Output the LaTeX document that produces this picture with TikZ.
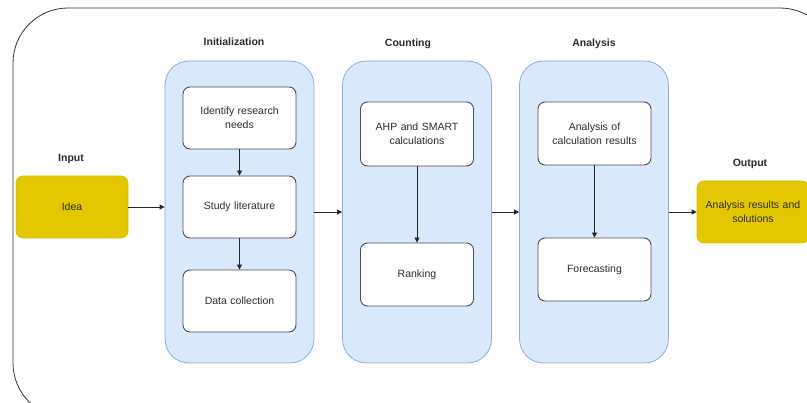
\documentclass[tikz,border=0pt]{standalone}
\usepackage{fontspec}
\setmainfont{Liberation Sans}
\usetikzlibrary{arrows.meta}
\definecolor{contfill}{HTML}{DAE8FC}
\definecolor{contline}{HTML}{8FAADC}
\definecolor{boxline}{HTML}{4D4D4D}
\definecolor{yel}{HTML}{E3C800}
\definecolor{yelline}{HTML}{D6BC00}
\definecolor{txt}{HTML}{2B2B2B}
\begin{document}
\begin{tikzpicture}[x=1pt,y=-1pt,
  container/.style={draw=contline,fill=contfill,rounded corners=24pt,line width=0.8pt,minimum width=149pt,minimum height=302pt,inner sep=0pt},
  stepbox/.style={draw=boxline,fill=white,rounded corners=7pt,line width=0.9pt,minimum width=113pt,minimum height=62pt,align=center,text width=110pt,font=\fontsize{10.5}{14}\selectfont,text=txt,inner sep=0pt},
  yelbox/.style={draw=yelline,fill=yel,rounded corners=7pt,line width=0.6pt,minimum width=112pt,minimum height=62pt,align=center,text width=112pt,font=\fontsize{10.5}{14}\selectfont,text=txt,inner sep=0pt},
  title/.style={font=\bfseries\fontsize{10.5}{12}\selectfont,text=txt},
  arr/.style={-{Triangle[length=5pt,width=5pt]},line width=0.8pt,draw=black!85}
]
\useasboundingbox (0,0) rectangle (807,403);
\begin{scope}
\clip (0,0) rectangle (807,403);
\draw[line width=0.8pt,draw=black!80,rounded corners=55pt] (13,8) rectangle (835,418);
\end{scope}
% containers
\node[container] (init) at (239.5,212) {};
\node[container] (count) at (417,212) {};
\node[container] (anal) at (594,212) {};
% titles
\node[title] (tinit) at (234,42) {Initialization};
\node[title] (tcount) at (408,44) {Counting};
\node[title] (tanal) at (594,44) {Analysis};
\node[title] (tin) at (71,159) {Input};
\node[title] (tout) at (750,164) {Output};
% inner boxes
\node[stepbox] (identify) at (239.5,118) {Identify research\\needs};
\node[stepbox] (study) at (239.5,207) {Study literature};
\node[stepbox] (data) at (239.5,301) {Data collection};
\node[stepbox,minimum height=64pt] (ahp) at (417,134) {AHP and SMART\\calculations};
\node[stepbox,minimum height=63pt] (rank) at (417,274.5) {Ranking};
\node[stepbox,minimum height=63pt] (aoc) at (594.5,133.5) {Analysis of\\calculation results};
\node[stepbox,minimum height=63pt] (fore) at (594.5,269.5) {Forecasting};
% input / output
\node[yelbox] (idea) at (72,207) {Idea};
\node[yelbox] (res) at (753,212) {Analysis results and\\solutions};
% arrows
\draw[arr] (idea.east) -- (idea.east -| init.west);
\draw[arr] (init.east) -- (count.west);
\draw[arr] (count.east) -- (anal.west);
\draw[arr] (anal.east) -- (res.west);
\draw[arr] (identify.south) -- (study.north);
\draw[arr] (study.south) -- (data.north);
\draw[arr] (ahp.south) -- (rank.north);
\draw[arr] (aoc.south) -- (fore.north);
\end{tikzpicture}
\end{document}
